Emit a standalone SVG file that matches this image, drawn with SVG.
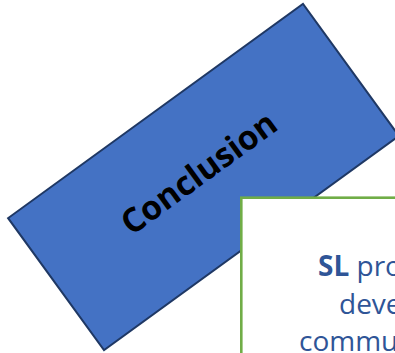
<svg xmlns="http://www.w3.org/2000/svg" width="395" height="353" viewBox="0 0 395 353">
  <style>
    .banner { fill: #4472C4; stroke: #1F3864; stroke-width: 2; }
    .banner-label { font-family: "Open Sans", "DejaVu Sans", sans-serif; font-weight: 700; font-size: 33.5px; fill: #000000; }
    .card { fill: #FFFFFF; stroke: #70AD47; stroke-width: 2.6; }
    .card-text { font-family: "Open Sans", "DejaVu Sans", sans-serif; font-size: 28px; fill: #2F5597; }
    .strong { font-weight: 700; }
  </style>
  <rect width="395" height="353" fill="#FFFFFF"/>

  <!-- rotated title banner -->
  <g id="conclusion">
    <rect class="banner" x="-182.25" y="-81.6" width="364.5" height="163.2" transform="translate(203.5,177) rotate(-36)"/>
    <text class="banner-label" text-anchor="middle" dominant-baseline="central" transform="translate(198,172) rotate(-36)">Conclusion</text>
  </g>

  <!-- summary card -->
  <g id="summary">
    <rect class="card" x="241.3" y="197.7" width="220" height="200"/>
    <text class="card-text" x="318" y="276"><tspan class="strong">SL</tspan> pro</text>
    <text class="card-text" x="339" y="314">deve</text>
    <text class="card-text" x="299" y="351">commu</text>
  </g>

  <g id="connectors"/>
</svg>
